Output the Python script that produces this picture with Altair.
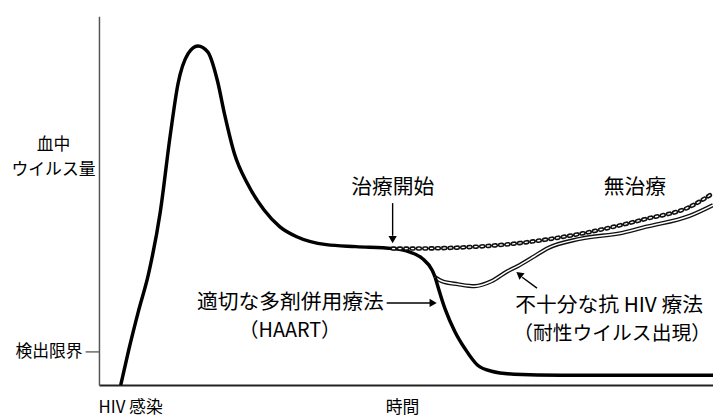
import altair as alt
import pandas as pd

FONT = "Noto Sans CJK JP"

# --- curves (x: time units, y: viral load units) ---
main_x = [22, 30, 40, 50, 62, 72, 80, 90, 100, 110, 120, 127, 137, 150, 167, 183,
          200, 230, 260, 297, 313, 327, 337, 340]
main_y = [0, 35, 75, 112, 175, 252, 305, 335, 343, 337, 307, 274, 234, 204, 177, 160,
          150, 142, 140, 138, 135, 128, 116, 109]

untreated_x = [297, 313, 363, 420, 487, 553, 597, 621]
untreated_y = [138, 138, 139, 143, 153, 168, 180, 194]

partial_x = [340, 347, 363, 380, 397, 413, 423, 440, 453, 487, 530, 553, 597, 621]
partial_y = [109, 105, 102, 100, 105, 115, 120, 130, 138, 148, 154, 160, 171, 182]

haart_x = [340, 350, 360, 370, 383, 397, 420, 467, 621]
haart_y = [109, 77, 54, 37, 20, 14, 11, 10, 10]

detect_level = 34

# --- annotation texts ---
ann_text = ["治療開始", "無治療", "適切な多剤併用療法", "（HAART）",
            "不十分な抗 HIV 療法", "（耐性ウイルス出現）"]
ann_x = [297, 542, 288, 193, 421, 419]
ann_y = [199, 199, 83, 55, 80, 52]
ann_align = ["center", "center", "right", "center", "left", "left"]
ann_size = [21, 21, 21, 20, 21, 20]

axis_text = ["血中", "ウイルス量", "HIV 感染", "時間"]
axis_tx = [-46, -46, 32, 307]
axis_ty = [243, 217, -23, -23]

# arrows: tail -> head
arr_x1 = [297, 291, 443]
arr_y1 = [184, 83, 98]
arr_x2 = [297, 335, 428]
arr_y2 = [151, 83, 109]
head_x = [297, 338, 425]
head_y = [147, 83, 112]
head_angle = [180, 90, 308]

XS = alt.Scale(domain=[0, 621], nice=False, zero=False)
YS = alt.Scale(domain=[0, 373], nice=False, zero=False)
XA = alt.Axis(values=[0], domain=True, domainColor="#222", domainWidth=2,
              ticks=False, labels=False, grid=False, title=None)
YA = alt.Axis(values=[detect_level], labelExpr="'検出限界'", domain=True,
              domainColor="#555", domainWidth=1.5, tickColor="#444", tickWidth=1.2,
              tickSize=14, labelPadding=3, labelFont=FONT, labelFontSize=17,
              labelColor="black", grid=False, title=None)


def xe(f="x"):
    return alt.X(f"{f}:Q", scale=XS, axis=XA)


def ye(f="y"):
    return alt.Y(f"{f}:Q", scale=YS, axis=YA)


def df(xs, ys):
    return pd.DataFrame({"x": xs, "y": ys, "o": range(len(xs))})


def line(d, **kw):
    return alt.Chart(d).mark_line(interpolate="monotone", **kw).encode(
        x=xe(), y=ye(), order="o:Q")


main = line(df(main_x, main_y), color="black", strokeWidth=3.5)
untr_a = line(df(untreated_x, untreated_y), color="#111", strokeWidth=4.6,
              strokeDash=[2, 4.4], strokeCap="round")
untr_b = line(df(untreated_x, untreated_y), color="white", strokeWidth=1.4,
              strokeDash=[2, 4.4], strokeCap="round")
part_a = line(df(partial_x, partial_y), color="#111", strokeWidth=4.2)
part_b = line(df(partial_x, partial_y), color="white", strokeWidth=1.5)
haart = line(df(haart_x, haart_y), color="black", strokeWidth=3.5)

arrows = alt.Chart(pd.DataFrame({"x": arr_x1, "y": arr_y1, "x2": arr_x2, "y2": arr_y2})
                   ).mark_rule(color="black", strokeWidth=1.4).encode(
    x=xe(), y=ye(), x2="x2:Q", y2="y2:Q")

heads = alt.Chart(pd.DataFrame({"x": head_x, "y": head_y, "a": head_angle})
                  ).mark_point(shape="triangle-up", filled=True, color="black",
                               size=70, opacity=1).encode(
    x=xe(), y=ye(), angle=alt.Angle("a:Q", scale=None))

ann = pd.DataFrame({"x": ann_x, "y": ann_y, "t": ann_text, "al": ann_align,
                    "s": ann_size})
texts = []
for al in ["center", "right", "left"]:
    texts.append(alt.Chart(ann[ann.al == al]).mark_text(
        font=FONT, align=al, baseline="middle", color="black").encode(
        x=xe(), y=ye(), text="t:N", size=alt.Size("s:Q", scale=None, legend=None)))

axt = alt.Chart(pd.DataFrame({"x": axis_tx, "y": axis_ty, "t": axis_text})).mark_text(
    font=FONT, fontSize=17, align="center", baseline="middle", color="black").encode(
    x=xe(), y=ye(), text="t:N")

chart = alt.layer(main, untr_a, untr_b, part_a, part_b, haart, arrows, heads,
                  *texts, axt).properties(
    width=621, height=373,
    padding={"left": 92, "top": 6, "right": 0, "bottom": 31},
    autosize=alt.AutoSizeParams(type="none"),
).configure_view(stroke=None)

chart.save("out.html", embed_options={"renderer": "svg", "actions": False})
